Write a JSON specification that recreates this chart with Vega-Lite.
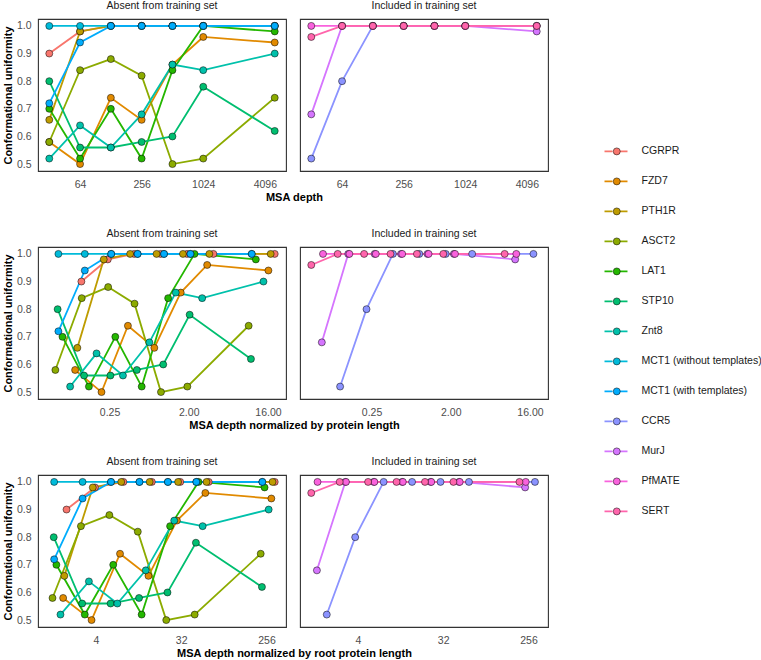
{
  "$schema": "https://vega.github.io/schema/vega-lite/v6.json",
  "padding": {"left": 2, "top": 0, "right": 0, "bottom": 0},
  "background": "white",
  "datasets": {
    "t": [
      {"p":"CGRPR","s":"Absent from training set","d":32,"n":0.1194,"r":1.955,"u":0.90},
      {"p":"CGRPR","s":"Absent from training set","d":64,"n":0.2388,"r":3.909,"u":0.98},
      {"p":"CGRPR","s":"Absent from training set","d":128,"n":0.4776,"r":7.819,"u":1.0},
      {"p":"CGRPR","s":"Absent from training set","d":256,"n":0.9552,"r":15.64,"u":1.0},
      {"p":"CGRPR","s":"Absent from training set","d":512,"n":1.910,"r":31.27,"u":1.0},
      {"p":"CGRPR","s":"Absent from training set","d":1024,"n":3.821,"r":62.55,"u":1.0},
      {"p":"CGRPR","s":"Absent from training set","d":5120,"n":19.10,"r":312.7,"u":1.0},
      {"p":"FZD7","s":"Absent from training set","d":32,"n":0.1013,"r":1.800,"u":0.58},
      {"p":"FZD7","s":"Absent from training set","d":64,"n":0.2025,"r":3.600,"u":0.50},
      {"p":"FZD7","s":"Absent from training set","d":128,"n":0.4051,"r":7.201,"u":0.74},
      {"p":"FZD7","s":"Absent from training set","d":256,"n":0.8101,"r":14.40,"u":0.66},
      {"p":"FZD7","s":"Absent from training set","d":512,"n":1.620,"r":28.80,"u":0.86},
      {"p":"FZD7","s":"Absent from training set","d":1024,"n":3.241,"r":57.61,"u":0.96},
      {"p":"FZD7","s":"Absent from training set","d":5120,"n":16.20,"r":288.0,"u":0.94},
      {"p":"PTH1R","s":"Absent from training set","d":32,"n":0.1074,"r":1.854,"u":0.66},
      {"p":"PTH1R","s":"Absent from training set","d":64,"n":0.2148,"r":3.707,"u":0.98},
      {"p":"PTH1R","s":"Absent from training set","d":128,"n":0.4295,"r":7.415,"u":1.0},
      {"p":"PTH1R","s":"Absent from training set","d":256,"n":0.8591,"r":14.83,"u":1.0},
      {"p":"PTH1R","s":"Absent from training set","d":512,"n":1.718,"r":29.66,"u":1.0},
      {"p":"PTH1R","s":"Absent from training set","d":1024,"n":3.436,"r":59.32,"u":1.0},
      {"p":"PTH1R","s":"Absent from training set","d":5120,"n":17.18,"r":296.6,"u":1.0},
      {"p":"ASCT2","s":"Absent from training set","d":32,"n":0.0603,"r":1.389,"u":0.58},
      {"p":"ASCT2","s":"Absent from training set","d":64,"n":0.1205,"r":2.777,"u":0.84},
      {"p":"ASCT2","s":"Absent from training set","d":128,"n":0.2411,"r":5.555,"u":0.88},
      {"p":"ASCT2","s":"Absent from training set","d":256,"n":0.4821,"r":11.11,"u":0.82},
      {"p":"ASCT2","s":"Absent from training set","d":512,"n":0.9642,"r":22.22,"u":0.50},
      {"p":"ASCT2","s":"Absent from training set","d":1024,"n":1.928,"r":44.44,"u":0.52},
      {"p":"ASCT2","s":"Absent from training set","d":5120,"n":9.642,"r":222.2,"u":0.74},
      {"p":"LAT1","s":"Absent from training set","d":32,"n":0.0727,"r":1.526,"u":0.70},
      {"p":"LAT1","s":"Absent from training set","d":64,"n":0.1455,"r":3.051,"u":0.52},
      {"p":"LAT1","s":"Absent from training set","d":128,"n":0.2909,"r":6.102,"u":0.70},
      {"p":"LAT1","s":"Absent from training set","d":256,"n":0.5818,"r":12.20,"u":0.52},
      {"p":"LAT1","s":"Absent from training set","d":512,"n":1.164,"r":24.41,"u":0.84},
      {"p":"LAT1","s":"Absent from training set","d":1024,"n":2.327,"r":48.82,"u":1.0},
      {"p":"LAT1","s":"Absent from training set","d":5120,"n":11.64,"r":244.1,"u":0.98},
      {"p":"STP10","s":"Absent from training set","d":32,"n":0.064,"r":1.431,"u":0.80},
      {"p":"STP10","s":"Absent from training set","d":64,"n":0.128,"r":2.862,"u":0.56},
      {"p":"STP10","s":"Absent from training set","d":128,"n":0.256,"r":5.724,"u":0.56},
      {"p":"STP10","s":"Absent from training set","d":256,"n":0.512,"r":11.45,"u":0.58},
      {"p":"STP10","s":"Absent from training set","d":512,"n":1.024,"r":22.90,"u":0.60},
      {"p":"STP10","s":"Absent from training set","d":1024,"n":2.048,"r":45.79,"u":0.78},
      {"p":"STP10","s":"Absent from training set","d":5120,"n":10.24,"r":229.0,"u":0.62},
      {"p":"Znt8","s":"Absent from training set","d":32,"n":0.0889,"r":1.687,"u":0.52},
      {"p":"Znt8","s":"Absent from training set","d":64,"n":0.1778,"r":3.373,"u":0.64},
      {"p":"Znt8","s":"Absent from training set","d":128,"n":0.3556,"r":6.746,"u":0.56},
      {"p":"Znt8","s":"Absent from training set","d":256,"n":0.7111,"r":13.49,"u":0.68},
      {"p":"Znt8","s":"Absent from training set","d":512,"n":1.422,"r":26.98,"u":0.86},
      {"p":"Znt8","s":"Absent from training set","d":1024,"n":2.844,"r":53.97,"u":0.84},
      {"p":"Znt8","s":"Absent from training set","d":5120,"n":14.22,"r":269.8,"u":0.90},
      {"p":"MCT1 (without templates)","s":"Absent from training set","d":32,"n":0.0653,"r":1.446,"u":1.0},
      {"p":"MCT1 (without templates)","s":"Absent from training set","d":64,"n":0.1306,"r":2.891,"u":1.0},
      {"p":"MCT1 (without templates)","s":"Absent from training set","d":128,"n":0.2612,"r":5.782,"u":1.0},
      {"p":"MCT1 (without templates)","s":"Absent from training set","d":256,"n":0.5224,"r":11.57,"u":1.0},
      {"p":"MCT1 (without templates)","s":"Absent from training set","d":512,"n":1.045,"r":23.13,"u":1.0},
      {"p":"MCT1 (without templates)","s":"Absent from training set","d":1024,"n":2.090,"r":46.26,"u":1.0},
      {"p":"MCT1 (without templates)","s":"Absent from training set","d":5120,"n":10.45,"r":231.3,"u":1.0},
      {"p":"MCT1 (with templates)","s":"Absent from training set","d":32,"n":0.0653,"r":1.446,"u":0.72},
      {"p":"MCT1 (with templates)","s":"Absent from training set","d":64,"n":0.1306,"r":2.891,"u":0.94},
      {"p":"MCT1 (with templates)","s":"Absent from training set","d":128,"n":0.2612,"r":5.782,"u":1.0},
      {"p":"MCT1 (with templates)","s":"Absent from training set","d":256,"n":0.5224,"r":11.57,"u":1.0},
      {"p":"MCT1 (with templates)","s":"Absent from training set","d":512,"n":1.045,"r":23.13,"u":1.0},
      {"p":"MCT1 (with templates)","s":"Absent from training set","d":1024,"n":2.090,"r":46.26,"u":1.0},
      {"p":"MCT1 (with templates)","s":"Absent from training set","d":5120,"n":10.45,"r":231.3,"u":1.0},
      {"p":"CCR5","s":"Included in training set","d":32,"n":0.1096,"r":1.873,"u":0.52},
      {"p":"CCR5","s":"Included in training set","d":64,"n":0.2192,"r":3.745,"u":0.80},
      {"p":"CCR5","s":"Included in training set","d":128,"n":0.4384,"r":7.491,"u":1.0},
      {"p":"CCR5","s":"Included in training set","d":256,"n":0.8767,"r":14.98,"u":1.0},
      {"p":"CCR5","s":"Included in training set","d":512,"n":1.753,"r":29.96,"u":1.0},
      {"p":"CCR5","s":"Included in training set","d":1024,"n":3.507,"r":59.92,"u":1.0},
      {"p":"CCR5","s":"Included in training set","d":5120,"n":17.53,"r":299.6,"u":1.0},
      {"p":"MurJ","s":"Included in training set","d":32,"n":0.0678,"r":1.473,"u":0.68},
      {"p":"MurJ","s":"Included in training set","d":64,"n":0.1356,"r":2.946,"u":1.0},
      {"p":"MurJ","s":"Included in training set","d":128,"n":0.2712,"r":5.892,"u":1.0},
      {"p":"MurJ","s":"Included in training set","d":256,"n":0.5424,"r":11.78,"u":1.0},
      {"p":"MurJ","s":"Included in training set","d":512,"n":1.085,"r":23.57,"u":1.0},
      {"p":"MurJ","s":"Included in training set","d":1024,"n":2.169,"r":47.13,"u":1.0},
      {"p":"MurJ","s":"Included in training set","d":5120,"n":10.85,"r":235.7,"u":0.98},
      {"p":"PfMATE","s":"Included in training set","d":32,"n":0.0699,"r":1.495,"u":1.0},
      {"p":"PfMATE","s":"Included in training set","d":64,"n":0.1397,"r":2.991,"u":1.0},
      {"p":"PfMATE","s":"Included in training set","d":128,"n":0.2795,"r":5.981,"u":1.0},
      {"p":"PfMATE","s":"Included in training set","d":256,"n":0.5590,"r":11.96,"u":1.0},
      {"p":"PfMATE","s":"Included in training set","d":512,"n":1.118,"r":23.92,"u":1.0},
      {"p":"PfMATE","s":"Included in training set","d":1024,"n":2.236,"r":47.85,"u":1.0},
      {"p":"PfMATE","s":"Included in training set","d":5120,"n":11.18,"r":239.2,"u":1.0},
      {"p":"SERT","s":"Included in training set","d":32,"n":0.0514,"r":1.283,"u":0.96},
      {"p":"SERT","s":"Included in training set","d":64,"n":0.1029,"r":2.566,"u":1.0},
      {"p":"SERT","s":"Included in training set","d":128,"n":0.2058,"r":5.132,"u":1.0},
      {"p":"SERT","s":"Included in training set","d":256,"n":0.4116,"r":10.26,"u":1.0},
      {"p":"SERT","s":"Included in training set","d":512,"n":0.8232,"r":20.53,"u":1.0},
      {"p":"SERT","s":"Included in training set","d":1024,"n":1.646,"r":41.06,"u":1.0},
      {"p":"SERT","s":"Included in training set","d":5120,"n":8.232,"r":205.3,"u":1.0}
    ]
  },
  "data": {"name": "t"},
  "spacing": 25,
  "vconcat": [
    {
      "title": {"text": "MSA depth", "orient": "bottom", "anchor": "middle", "dx": 19, "offset": 2, "fontSize": 11, "fontWeight": "bold", "color": "black"},
      "facet": {"column": {"field": "s", "type": "nominal", "header": {"title": null, "labelPadding": 7}}},
      "spacing": 12,
      "spec": {
        "width": 248, "height": 152,
        "encoding": {
          "x": {"field": "d", "type": "quantitative", "scale": {"type": "log", "base": 2, "domain": [24.83, 6598], "nice": false}, "axis": {"values": [64, 256, 1024, 4096], "format": "d", "title": null}},
          "y": {"field": "u", "type": "quantitative", "scale": {"domain": [0.475, 1.025], "nice": false, "zero": false}, "axis": {"values": [0.5, 0.6, 0.7, 0.8, 0.9, 1.0], "format": ".1f", "title": "Conformational uniformity"}}
        },
        "layer": [
          {"mark": {"type": "line", "strokeWidth": 1.8}, "encoding": {"stroke": {"field": "p", "type": "nominal", "scale": {"domain": ["CGRPR","FZD7","PTH1R","ASCT2","LAT1","STP10","Znt8","MCT1 (without templates)","MCT1 (with templates)","CCR5","MurJ","PfMATE","SERT"], "range": ["#F8766D","#E18A00","#BE9C00","#8CAB00","#24B700","#00BE70","#00C1AB","#00BBDA","#00ACFC","#8B93FF","#D575FE","#F962DD","#FF65AC"]}, "legend": {"orient": "none", "legendX": 565.5, "legendY": 117.4, "title": null, "symbolType": "M-1,0H-0.3M0.3,0H1", "symbolSize": 529, "symbolStrokeWidth": 1.8, "clipHeight": 30, "rowPadding": 0, "labelOffset": 13, "labelFontSize": 10.5, "labelColor": "#1A1A1A", "zindex": 0}}}},
          {"mark": {"type": "point", "filled": true, "size": 49, "stroke": "black", "strokeWidth": 0.5, "opacity": 1}, "encoding": {"fill": {"field": "p", "type": "nominal", "sort": ["CGRPR","FZD7","PTH1R","ASCT2","LAT1","STP10","Znt8","MCT1 (without templates)","MCT1 (with templates)","CCR5","MurJ","PfMATE","SERT"], "scale": {"range": ["#F8766D","#E18A00","#BE9C00","#8CAB00","#24B700","#00BE70","#00C1AB","#00BBDA","#00ACFC","#8B93FF","#D575FE","#F962DD","#FF65AC"]}, "legend": {"orient": "none", "legendX": 573.5, "legendY": 117.4, "title": null, "symbolType": "circle", "symbolSize": 49, "symbolStrokeColor": "black", "symbolStrokeWidth": 0.5, "symbolOpacity": 1, "clipHeight": 30, "rowPadding": 0, "labelExpr": "''", "labelFontSize": 10.5, "zindex": 1}}}}
        ]
      }
    },
    {
      "title": {"text": "MSA depth normalized by protein length", "orient": "bottom", "anchor": "middle", "dx": 19, "offset": 2, "fontSize": 11, "fontWeight": "bold", "color": "black"},
      "facet": {"column": {"field": "s", "type": "nominal", "header": {"title": null, "labelPadding": 7}}},
      "spacing": 12,
      "spec": {
        "width": 248, "height": 152,
        "encoding": {
          "x": {"field": "n", "type": "quantitative", "scale": {"type": "log", "base": 2, "domain": [0.03823, 25.69], "nice": false}, "axis": {"values": [0.25, 2, 16], "format": ".2f", "title": null}},
          "y": {"field": "u", "type": "quantitative", "scale": {"domain": [0.475, 1.025], "nice": false, "zero": false}, "axis": {"values": [0.5, 0.6, 0.7, 0.8, 0.9, 1.0], "format": ".1f", "title": "Conformational uniformity"}}
        },
        "layer": [
          {"mark": {"type": "line", "strokeWidth": 1.8}, "encoding": {"stroke": {"field": "p", "type": "nominal", "scale": {"domain": ["CGRPR","FZD7","PTH1R","ASCT2","LAT1","STP10","Znt8","MCT1 (without templates)","MCT1 (with templates)","CCR5","MurJ","PfMATE","SERT"], "range": ["#F8766D","#E18A00","#BE9C00","#8CAB00","#24B700","#00BE70","#00C1AB","#00BBDA","#00ACFC","#8B93FF","#D575FE","#F962DD","#FF65AC"]}, "legend": {"orient": "none", "legendX": 565.5, "legendY": 117.4, "title": null, "symbolType": "M-1,0H-0.3M0.3,0H1", "symbolSize": 529, "symbolStrokeWidth": 1.8, "clipHeight": 30, "rowPadding": 0, "labelOffset": 13, "labelFontSize": 10.5, "labelColor": "#1A1A1A", "zindex": 0}}}},
          {"mark": {"type": "point", "filled": true, "size": 49, "stroke": "black", "strokeWidth": 0.5, "opacity": 1}, "encoding": {"fill": {"field": "p", "type": "nominal", "sort": ["CGRPR","FZD7","PTH1R","ASCT2","LAT1","STP10","Znt8","MCT1 (without templates)","MCT1 (with templates)","CCR5","MurJ","PfMATE","SERT"], "scale": {"range": ["#F8766D","#E18A00","#BE9C00","#8CAB00","#24B700","#00BE70","#00C1AB","#00BBDA","#00ACFC","#8B93FF","#D575FE","#F962DD","#FF65AC"]}, "legend": {"orient": "none", "legendX": 573.5, "legendY": 117.4, "title": null, "symbolType": "circle", "symbolSize": 49, "symbolStrokeColor": "black", "symbolStrokeWidth": 0.5, "symbolOpacity": 1, "clipHeight": 30, "rowPadding": 0, "labelExpr": "''", "labelFontSize": 10.5, "zindex": 1}}}}
        ]
      }
    },
    {
      "title": {"text": "MSA depth normalized by root protein length", "orient": "bottom", "anchor": "middle", "dx": 19, "offset": 2, "fontSize": 11, "fontWeight": "bold", "color": "black"},
      "facet": {"column": {"field": "s", "type": "nominal", "header": {"title": null, "labelPadding": 7}}},
      "spacing": 12,
      "spec": {
        "width": 248, "height": 152,
        "encoding": {
          "x": {"field": "r", "type": "quantitative", "scale": {"type": "log", "base": 2, "domain": [0.9753, 411.6], "nice": false}, "axis": {"values": [4, 32, 256], "format": "d", "title": null}},
          "y": {"field": "u", "type": "quantitative", "scale": {"domain": [0.475, 1.025], "nice": false, "zero": false}, "axis": {"values": [0.5, 0.6, 0.7, 0.8, 0.9, 1.0], "format": ".1f", "title": "Conformational uniformity"}}
        },
        "layer": [
          {"mark": {"type": "line", "strokeWidth": 1.8}, "encoding": {"stroke": {"field": "p", "type": "nominal", "scale": {"domain": ["CGRPR","FZD7","PTH1R","ASCT2","LAT1","STP10","Znt8","MCT1 (without templates)","MCT1 (with templates)","CCR5","MurJ","PfMATE","SERT"], "range": ["#F8766D","#E18A00","#BE9C00","#8CAB00","#24B700","#00BE70","#00C1AB","#00BBDA","#00ACFC","#8B93FF","#D575FE","#F962DD","#FF65AC"]}, "legend": {"orient": "none", "legendX": 565.5, "legendY": 117.4, "title": null, "symbolType": "M-1,0H-0.3M0.3,0H1", "symbolSize": 529, "symbolStrokeWidth": 1.8, "clipHeight": 30, "rowPadding": 0, "labelOffset": 13, "labelFontSize": 10.5, "labelColor": "#1A1A1A", "zindex": 0}}}},
          {"mark": {"type": "point", "filled": true, "size": 49, "stroke": "black", "strokeWidth": 0.5, "opacity": 1}, "encoding": {"fill": {"field": "p", "type": "nominal", "sort": ["CGRPR","FZD7","PTH1R","ASCT2","LAT1","STP10","Znt8","MCT1 (without templates)","MCT1 (with templates)","CCR5","MurJ","PfMATE","SERT"], "scale": {"range": ["#F8766D","#E18A00","#BE9C00","#8CAB00","#24B700","#00BE70","#00C1AB","#00BBDA","#00ACFC","#8B93FF","#D575FE","#F962DD","#FF65AC"]}, "legend": {"orient": "none", "legendX": 573.5, "legendY": 117.4, "title": null, "symbolType": "circle", "symbolSize": 49, "symbolStrokeColor": "black", "symbolStrokeWidth": 0.5, "symbolOpacity": 1, "clipHeight": 30, "rowPadding": 0, "labelExpr": "''", "labelFontSize": 10.5, "zindex": 1}}}}
        ]
      }
    }
  ],
  "resolve": {"scale": {"stroke": "shared", "fill": "shared"}},
  "config": {
    "font": "Liberation Sans",
    "view": {"stroke": "#333333", "strokeWidth": 1.1},
    "axis": {"grid": false, "ticks": false, "tickSize": 0, "domain": false, "labelFontSize": 10.5, "labelColor": "#4D4D4D", "titleFontSize": 11, "titleFontWeight": "bold", "titleColor": "black"},
    "axisX": {"labelPadding": 7},
    "axisY": {"labelPadding": 6, "titlePadding": 3},
    "header": {"labelFontSize": 10.5, "labelColor": "#1A1A1A"}
  }
}
